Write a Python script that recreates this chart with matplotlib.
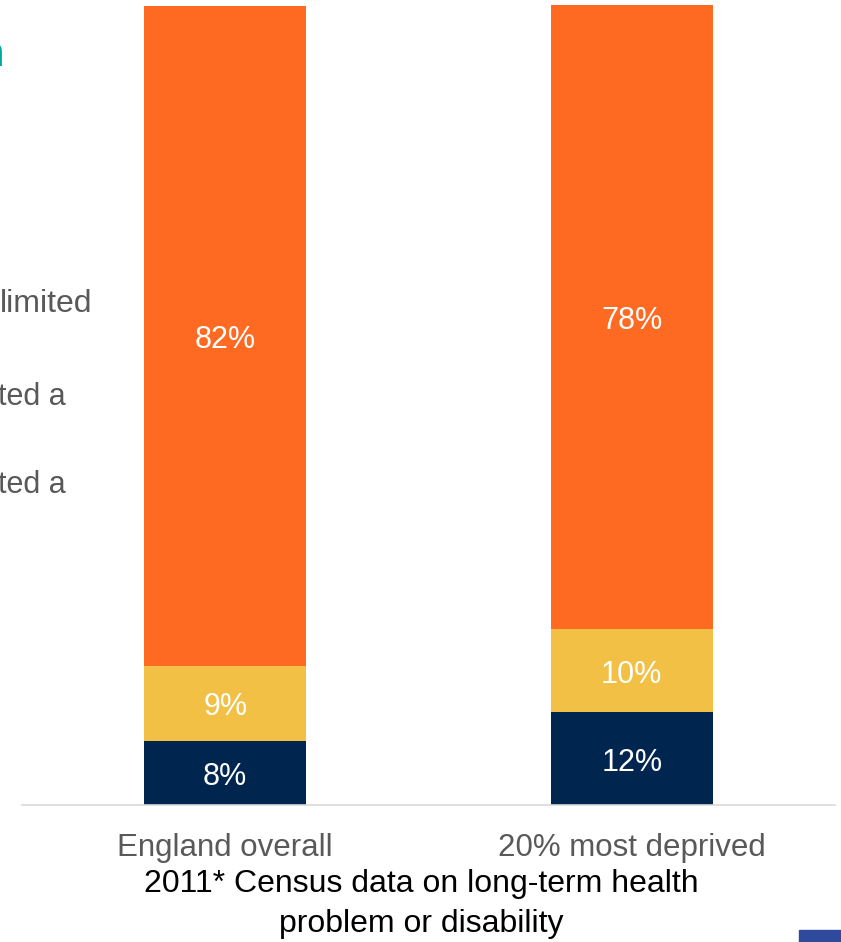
import matplotlib
matplotlib.use("Agg")
import matplotlib.pyplot as plt
from matplotlib.patches import Rectangle

plt.rcParams["font.family"] = ["Liberation Sans", "DejaVu Sans"]

groups = ["England overall", "20% most deprived"]
limited_a_lot = [8.0, 11.6]
limited_a_little = [9.4, 10.4]
not_limited = [82.4, 78.0]

NAVY, YELLOW, ORANGE = "#00264F", "#F2C045", "#FF6A22"
GREY = "#595959"

fig = plt.figure(figsize=(8.41, 9.42), dpi=100)
ax = fig.add_axes([22 / 841, 137 / 942, 813 / 841, 805 / 942])

x = list(range(len(groups)))
w = 0.398
bottoms = [0.0] * len(groups)
for vals, col in [(limited_a_lot, NAVY), (limited_a_little, YELLOW), (not_limited, ORANGE)]:
    ax.bar(x, vals, w, bottom=bottoms, color=col, edgecolor="none")
    for xi, b, v in zip(x, bottoms, vals):
        ax.text(xi, b + v / 2 - 0.5, f"{v:.0f}%", ha="center", va="center",
                color="white", fontsize=22)
    bottoms = [b + v for b, v in zip(bottoms, vals)]

ax.set_xlim(-0.5, 1.5)
ax.set_ylim(0, 100.6)
ax.set_yticks([])
ax.set_xticks(x)
ax.set_xticklabels(groups, fontsize=22.5, color=GREY)
ax.tick_params(axis="x", length=0, pad=20)
for s in ["top", "left", "right"]:
    ax.spines[s].set_visible(False)
ax.spines["bottom"].set_color("#D9D9D9")
ax.spines["bottom"].set_linewidth(1.2)

fig.text(421 / 841, 1 - 904 / 942,
         "2011* Census data on long-term health\nproblem or disability",
         ha="center", va="center", fontsize=23, color="black", linespacing=1.45)

# fragments of the slide cut off on the left
for txt, xx, yy, fs in [("limited", 92, 304, 23), ("ted a", 66, 397, 22),
                        ("ted a", 66, 485, 22)]:
    fig.text(xx / 841, 1 - yy / 942, txt,
             ha="right", va="center", fontsize=fs, color=GREY)
fig.text(4 / 841, 1 - 55 / 942, "n", ha="right", va="center",
         fontsize=30, color="#00A6A0", fontweight="bold")
fig.patches.append(Rectangle((799 / 841, 0), 42 / 841, 12 / 942,
                             transform=fig.transFigure, color="#2F4A9C"))

fig.savefig("out.png", dpi=100)
